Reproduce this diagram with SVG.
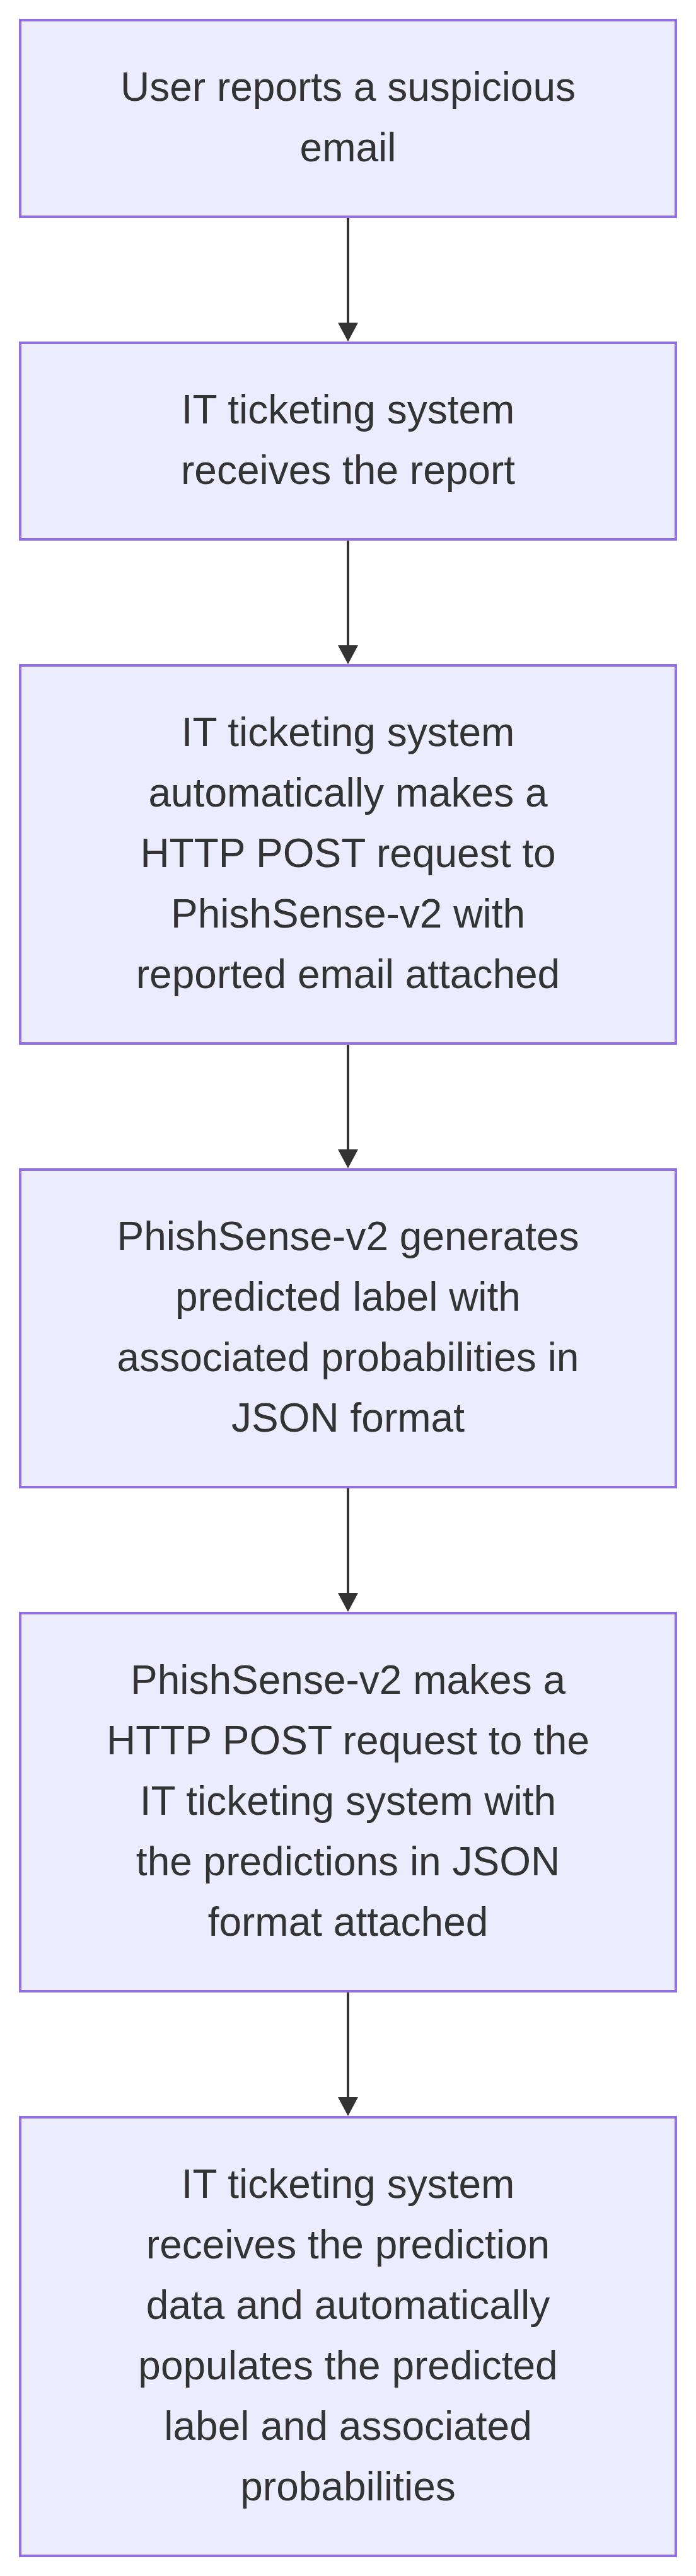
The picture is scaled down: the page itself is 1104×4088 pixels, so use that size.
<svg xmlns="http://www.w3.org/2000/svg" width="1104" height="4088" viewBox="0 0 1104 4088">
<style>
.node rect{fill:#ECECFF;stroke:#9370DB;stroke-width:4px}
.node text{font-family:"Liberation Sans",Arial,sans-serif;font-size:64px;fill:#333333;text-anchor:middle}
.edge{stroke:#333333;stroke-width:4px;fill:none}
.head{fill:#333333}
</style>
<rect width="1104" height="4088" fill="#ffffff"/>
<g id="connectors">
<line class="edge" x1="552" y1="346" x2="552" y2="516"/>
<polygon class="head" points="536,512 568,512 552,542"/>
<line class="edge" x1="552" y1="858" x2="552" y2="1028"/>
<polygon class="head" points="536,1024 568,1024 552,1054"/>
<line class="edge" x1="552" y1="1658" x2="552" y2="1828"/>
<polygon class="head" points="536,1824 568,1824 552,1854"/>
<line class="edge" x1="552" y1="2362" x2="552" y2="2532"/>
<polygon class="head" points="536,2528 568,2528 552,2558"/>
<line class="edge" x1="552" y1="3162" x2="552" y2="3332"/>
<polygon class="head" points="536,3328 568,3328 552,3358"/>
</g>
<g id="n1" class="node">
<rect x="32" y="32" width="1040" height="312"/>
<text x="552" y="160">User reports a suspicious</text>
<text x="552" y="256">email</text>
</g>
<g id="n2" class="node">
<rect x="32" y="544" width="1040" height="312"/>
<text x="552" y="672">IT ticketing system</text>
<text x="552" y="768">receives the report</text>
</g>
<g id="n3" class="node">
<rect x="32" y="1056" width="1040" height="600"/>
<text x="552" y="1184">IT ticketing system</text>
<text x="552" y="1280">automatically makes a</text>
<text x="552" y="1376">HTTP POST request to</text>
<text x="552" y="1472">PhishSense-v2 with</text>
<text x="552" y="1568">reported email attached</text>
</g>
<g id="n4" class="node">
<rect x="32" y="1856" width="1040" height="504"/>
<text x="552" y="1984">PhishSense-v2 generates</text>
<text x="552" y="2080">predicted label with</text>
<text x="552" y="2176">associated probabilities in</text>
<text x="552" y="2272">JSON format</text>
</g>
<g id="n5" class="node">
<rect x="32" y="2560" width="1040" height="600"/>
<text x="552" y="2688">PhishSense-v2 makes a</text>
<text x="552" y="2784">HTTP POST request to the</text>
<text x="552" y="2880">IT ticketing system with</text>
<text x="552" y="2976">the predictions in JSON</text>
<text x="552" y="3072">format attached</text>
</g>
<g id="n6" class="node">
<rect x="32" y="3360" width="1040" height="696"/>
<text x="552" y="3488">IT ticketing system</text>
<text x="552" y="3584">receives the prediction</text>
<text x="552" y="3680">data and automatically</text>
<text x="552" y="3776">populates the predicted</text>
<text x="552" y="3872">label and associated</text>
<text x="552" y="3968">probabilities</text>
</g>
</svg>
